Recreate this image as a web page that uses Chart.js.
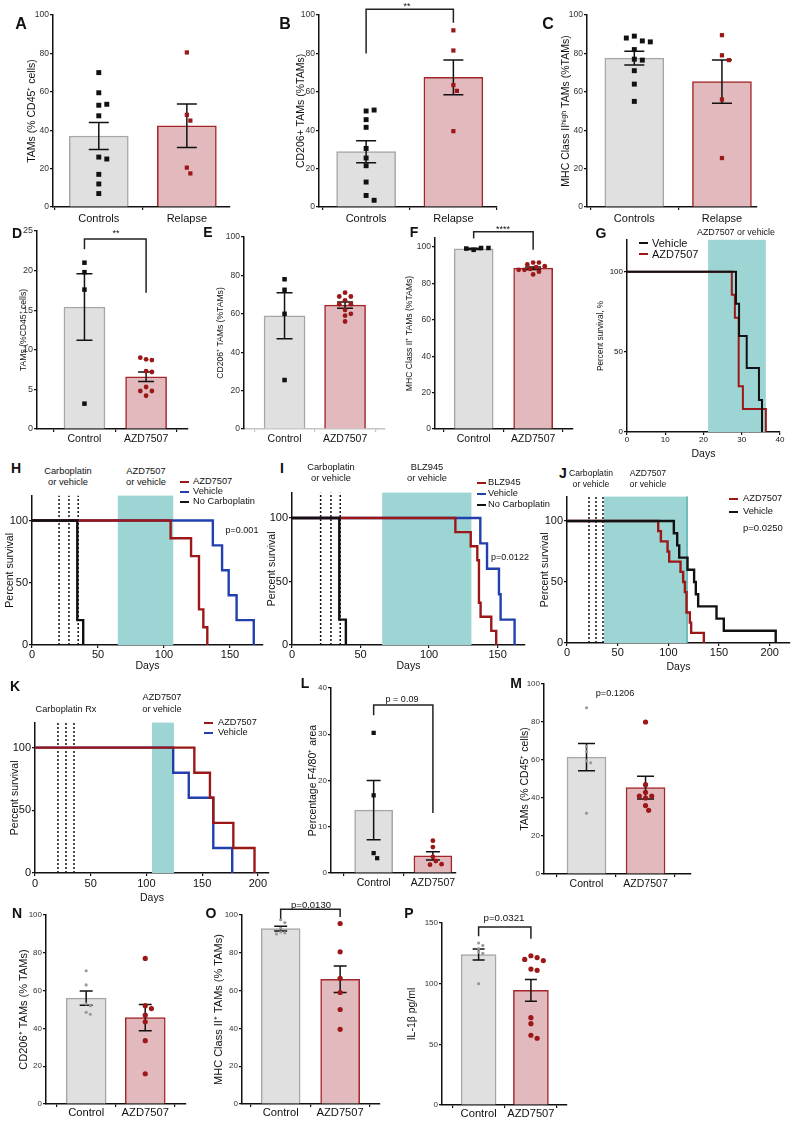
<!DOCTYPE html>
<html>
<head>
<meta charset="utf-8">
<title>TAM panels</title>
<script src="https://cdn.jsdelivr.net/npm/chart.js@4.4.1/dist/chart.umd.min.js"></script>
<style>
  html, body { margin: 0; padding: 0; background: #fff; }
  body { position: relative; width: 800px; height: 1125px; overflow: hidden; font-family: 'Liberation Sans', Arial, sans-serif; color: #111; }
  canvas { position: absolute; }
  .t { position: absolute; white-space: nowrap; line-height: 1; transform: translate(-50%, -50%); }
  .l { position: absolute; white-space: nowrap; line-height: 1; transform: translateY(-50%); }
  .sw { position: absolute; height: 2.5px; }
</style>
</head>
<body>
<script>
// ---------- categories and ticks ----------
const relapseCats = ['Controls', 'Relapse'];
const azdCats = ['Control', 'AZD7507'];
const pctTicks = [0, 20, 40, 60, 80, 100];
const dTicks = [0, 5, 10, 15, 20, 25];
const lTicks = [0, 10, 20, 30, 40];
const pTicks = [0, 50, 100, 150];
const survTicks = [0, 50, 100];
const gDayTicks = [0, 10, 20, 30, 40];
const hDayTicks = [0, 50, 100, 150];
const jDayTicks = [0, 50, 100, 150, 200];

// ---------- bar + dot panels ----------
const aCtrl = [70, 59.5, 53, 53.5, 47.5, 26, 25, 17, 12, 7];
const aRel = [80.5, 48, 45, 20.5, 17.5];
const aMean = [37, 42.3];
const aSem = [7, 11.3];

const bCtrl = [50, 50.5, 45.5, 41.5, 30.5, 25.5, 21.5, 13, 6, 3.5];
const bRel = [92, 81.5, 63.5, 60.5, 39.5];
const bMean = [28.8, 67.5];
const bSem = [5.7, 9];

const cCtrl = [89, 86.5, 88, 86, 82, 77, 76.5, 71, 64, 55];
const cRel = [89.5, 79, 76.5, 56, 25.5];
const cMean = [77.5, 65.3];
const cSem = [3.6, 11.3];

const dCtrl = [21, 19.8, 17.6, 3.2];
const dAzd = [8.8, 8.7, 9.0, 7.3, 7.2, 5.3, 4.8, 4.8, 4.2];
const dMean = [15.4, 6.6];
const dSem = [4.2, 0.6];

const eCtrl = [78, 72.5, 60, 25.5];
const eAzd = [71, 69, 69, 67, 65, 65, 62, 60, 59, 56];
const eMean = [59, 64.5];
const eSem = [12, 1.6];

const fCtrl = [98.5, 99.5, 99.2, 99.5];
const fAzd = [91.5, 91.5, 90.5, 89.5, 89, 88, 87.5, 87.5, 86.5, 85];
const fMean = [99, 88.4];
const fSem = [0.3, 0.7];

const lCtrl = [30.3, 16.8, 4.3, 3.2];
const lAzd = [7.0, 5.6, 3.5, 2.6, 1.8, 1.9];
const lMean = [13.6, 3.7];
const lSem = [6.4, 0.9];

const mCtrl = [87.5, 67, 64.5, 59.5, 58.5, 32];
const mAzd = [80, 47, 43, 41, 41, 40, 36, 33.5];
const mMean = [61.5, 45.5];
const mSem = [7.2, 6];

const nCtrl = [70.5, 63, 53, 52, 48.5, 47.5];
const nAzd = [77, 52, 50.5, 47, 43.5, 33.5, 16];
const nMean = [56, 45.7];
const nSem = [3.8, 7];

const oCtrl = [97.5, 96, 93, 91, 90.5, 90];
const oAzd = [95.5, 80.5, 66.5, 59, 50, 39.5];
const oMean = [92.8, 66];
const oSem = [1.3, 7];

const pCtrl = [133.5, 131.5, 129, 126, 125, 100];
const pAzd = [123, 121.5, 120, 119, 112, 111, 72, 67, 57.5, 55];
const pMean = [124, 94.5];
const pSem = [4.5, 9];

// significance brackets: [left end, right end, top, left leg bottom, right leg bottom]
const bBracket = [0, 1, 103, 80, 96];
const dBracket = [0, 1, 24, 22.7, 17.2];
const fBracket = [0, 1, 108.5, 104.7, 98.6];
const lBracket = [0, 1, 36.3, 34.1, 13];
const oBracket = [0, 1, 103, 98, 99];
const pBracket = [0, 1, 146.7, 139, 137];

// ---------- survival curves (event days / percent surviving) ----------
const gVehT = [0, 28.5, 29.3, 31.3, 34.5, 35.3];
const gVehS = [100, 80, 60, 40, 20, 0];
const gAzdT = [0, 27.4, 28.2, 29.2, 30.3, 36.3];
const gAzdS = [100, 85.7, 71.4, 28.6, 14.3, 0];
const gBand = [21.2, 36.3];

const hAzdT = [0, 105, 120.5, 126.5, 129.8, 132.8];
const hAzdS = [100, 85.7, 71.4, 28.6, 14.3, 0];
const hVehT = [0, 137, 144, 149, 155, 168];
const hVehS = [100, 80, 60, 40, 20, 0];
const hNoT = [0, 34.3, 38.8];
const hNoS = [100, 20, 0];
const hBand = [65, 107];
const hDoses = [20.5, 28, 35];

const iBlzT = [0, 119.2, 130.4, 135.2, 136.4, 137.6, 145.4, 149];
const iBlzS = [100, 88.9, 77.8, 66.7, 33.3, 22.2, 11.1, 0];
const iVehT = [0, 137.4, 142.3, 151, 152.2, 162.4];
const iVehS = [100, 80, 60, 40, 20, 0];
const iNoT = [0, 34.5, 39.3];
const iNoS = [100, 20, 0];
const iBand = [65.8, 130.9];
const iDoses = [20.9, 28.4, 35.2];

const jAzdT = [0, 90, 92.6, 99.2, 100.8, 112, 114.6, 116.3, 117.9, 121.2, 122.5, 135];
const jAzdS = [100, 91.7, 83.3, 75, 66.7, 58.3, 50, 41.7, 25, 16.7, 8.3, 0];
const jVehT = [0, 105.4, 108.7, 110.7, 118.9, 125.4, 127.1, 129.4, 147.5, 154.7, 205.9];
const jVehS = [100, 90, 80, 70, 60, 50, 40, 30, 20, 10, 0];
const jBand = [36.5, 118.5];
const jDoses = [21.7, 28.6, 35.5];

const kAzdT = [0, 143, 157, 160, 178, 197];
const kAzdS = [100, 80, 60, 40, 20, 0];
const kVehT = [0, 124, 138, 160, 177];
const kVehS = [100, 80, 60, 20, 0];
const kBand = [105, 124.7];
const kDoses = [20.6, 27.8, 35];

// ---------- styles ----------
const FONT = "'Liberation Sans', Arial, sans-serif";
const INK = '#111';
const GREY_FILL = '#e0e0e0', GREY_EDGE = '#a6a6a6';
const PINK_FILL = '#e2babd', RED_EDGE = '#a3252a';
const RED = '#9c1818', BLUE = '#2140ad', TEAL = '#9dd5d4';

Chart.defaults.font.family = FONT;
Chart.defaults.color = INK;

Chart.register({
    id: 'deco',
    beforeDatasetsDraw(chart, args, opts) {
        if (!opts.band) {
            return;
        }
        const { ctx, chartArea: a, scales: { x } } = chart;
        const x0 = x.getPixelForValue(opts.band[0]);
        const x1 = x.getPixelForValue(opts.band[1]);
        ctx.save();
        ctx.fillStyle = TEAL;
        ctx.fillRect(x0, a.top, x1 - x0, a.bottom - a.top);
        if (opts.bandEdge) {
            ctx.strokeStyle = '#3aa6a3';
            ctx.lineWidth = 1.2;
            ctx.beginPath();
            ctx.moveTo(x1, a.top);
            ctx.lineTo(x1, a.bottom);
            ctx.stroke();
        }
        ctx.restore();
    },
    afterDatasetDraw(chart, args, opts) {
        if (!opts.mean || args.index !== 0) {
            return;
        }
        const { ctx, scales: { x, y } } = chart;
        ctx.save();
        ctx.strokeStyle = INK;
        ctx.lineWidth = 1.5;
        opts.mean.forEach((m, i) => {
            const px = x.getPixelForValue(i);
            const lo = y.getPixelForValue(m - opts.sem[i]);
            const hi = y.getPixelForValue(m + opts.sem[i]);
            const w = opts.cap / 2;
            ctx.beginPath();
            ctx.moveTo(px, lo); ctx.lineTo(px, hi);
            ctx.moveTo(px - w, lo); ctx.lineTo(px + w, lo);
            ctx.moveTo(px - w, hi); ctx.lineTo(px + w, hi);
            ctx.stroke();
        });
        ctx.restore();
    },
    afterDatasetsDraw(chart, args, opts) {
        if (!opts.bracket) {
            return;
        }
        const { ctx, scales: { x, y } } = chart;
        const [i0, i1, top, l, r] = opts.bracket;
        ctx.save();
        ctx.strokeStyle = '#222';
        ctx.lineWidth = 1.5;
        ctx.beginPath();
        ctx.moveTo(x.getPixelForValue(i0), y.getPixelForValue(l));
        ctx.lineTo(x.getPixelForValue(i0), y.getPixelForValue(top));
        ctx.lineTo(x.getPixelForValue(i1), y.getPixelForValue(top));
        ctx.lineTo(x.getPixelForValue(i1), y.getPixelForValue(r));
        ctx.stroke();
        ctx.restore();
    },
});

function mkCanvas(g) {
    const lh = g.titleFs * 1.2;
    const left = Math.round(g.titleX - lh / 2);
    const top = Math.round(g.top - g.padTop);
    const cv = document.createElement('canvas');
    cv.width = Math.round(g.right + (g.padRight || 8) - left);
    cv.height = Math.round(g.bottom + g.xH - top);
    cv.style.left = left + 'px';
    cv.style.top = top + 'px';
    document.body.appendChild(cv);
    return { cv, yW: g.axisX - left, padTop: g.top - top, padRight: cv.width - (g.right - left), xH: cv.height - (g.bottom - top) };
}

// small beeswarm so overlapping dots sit side by side
function swarm(vals, center, g, dia) {
    const pxX = (g.right - g.axisX) / (g.xMax - g.xMin);
    const pxY = (g.bottom - g.top) / g.yMax;
    const placed = [];
    const near = dia * 0.85;
    return vals.map((v) => {
        const py = v * pxY;
        let off = 0;
        for (let k = 0; k < 30; k++) {
            const c = (k % 2 ? 1 : -1) * Math.ceil(k / 2) * dia * 0.5;
            if (placed.every((p) => Math.hypot(p[0] - c, p[1] - py) >= near)) {
                off = c;
                break;
            }
        }
        placed.push([off, py]);
        return { x: center + off / pxX, y: v };
    });
}

function axisCommon(color) {
    return {
        border: { color: color || INK, width: 1.5 },
        grid: { display: true, drawOnChartArea: false, drawTicks: true, tickLength: 3, color: color || INK, lineWidth: 1.2 },
    };
}

function barPanel(g, cats, ticks, ctrl, trt, mean, sem, bracket) {
    const c = mkCanvas(g);
    const st = g.marks;
    new Chart(c.cv, {
        type: 'scatter',
        data: {
            datasets: [
                {
                    type: 'bar',
                    data: mean.map((m, i) => ({ x: i, y: m })),
                    backgroundColor: [GREY_FILL, PINK_FILL],
                    borderColor: [GREY_EDGE, RED_EDGE],
                    borderWidth: 1.5,
                    barThickness: g.barW,
                    order: 3,
                },
                {
                    data: swarm(ctrl, 0, g, st.cr * 2 + 1),
                    pointStyle: st.cs,
                    pointRadius: st.cr,
                    pointBackgroundColor: st.cc,
                    pointBorderWidth: 0,
                    order: 2,
                },
                {
                    data: swarm(trt, 1, g, st.tr * 2 + 1),
                    pointStyle: st.ts,
                    pointRadius: st.tr,
                    pointBackgroundColor: RED,
                    pointBorderWidth: 0,
                    order: 1,
                },
            ],
        },
        options: {
            responsive: false,
            animation: false,
            events: [],
            layout: { padding: { top: c.padTop, right: c.padRight, left: 0, bottom: 0 } },
            plugins: {
                legend: { display: false },
                tooltip: { enabled: false },
                deco: { mean, sem, cap: g.cap, bracket },
            },
            scales: {
                x: {
                    type: 'linear',
                    min: g.xMin,
                    max: g.xMax,
                    offset: false,
                    afterBuildTicks: (s) => { s.ticks = [{ value: 0 }, { value: 1 }]; },
                    afterFit: (s) => { s.height = c.xH; },
                    ...axisCommon(g.xLine),
                    ticks: {
                        autoSkip: false,
                        maxRotation: 0,
                        padding: g.catPad,
                        color: INK,
                        font: { size: g.catFs },
                        callback: (v) => cats[v],
                    },
                },
                y: {
                    type: 'linear',
                    min: 0,
                    max: g.yMax,
                    afterBuildTicks: (s) => { s.ticks = ticks.map((v) => ({ value: v })); },
                    afterFit: (s) => { s.width = c.yW; },
                    ...axisCommon(),
                    ticks: { padding: 1, color: '#333', font: { size: g.tickFs } },
                    title: { display: true, text: g.title, padding: 0, color: INK, font: { size: g.titleFs } },
                },
            },
        },
    });
}

function survPanel(g, xTicks, curves, band, doses) {
    const c = mkCanvas(g);
    const datasets = [];
    (doses || []).forEach((t) => datasets.push({
        type: 'line',
        data: [{ x: t, y: 0 }, { x: t, y: g.yMax }],
        borderColor: INK,
        borderWidth: 1.5,
        borderDash: [2, 2],
        pointRadius: 0,
        order: 20,
    }));
    curves.forEach((s, i) => datasets.push({
        type: 'line',
        data: s.t.map((t, k) => ({ x: t, y: s.s[k] })),
        stepped: true,
        borderColor: s.color,
        borderWidth: g.lw,
        pointRadius: 0,
        clip: 4,
        order: 10 - i,
    }));
    new Chart(c.cv, {
        type: 'scatter',
        data: { datasets },
        options: {
            responsive: false,
            animation: false,
            events: [],
            layout: { padding: { top: c.padTop, right: c.padRight, left: 0, bottom: 0 } },
            plugins: {
                legend: { display: false },
                tooltip: { enabled: false },
                deco: { band, bandEdge: g.bandEdge },
            },
            scales: {
                x: {
                    type: 'linear',
                    min: 0,
                    max: g.xMax,
                    afterBuildTicks: (s) => { s.ticks = xTicks.map((v) => ({ value: v })); },
                    afterFit: (s) => { s.height = c.xH; },
                    ...axisCommon(),
                    ticks: { autoSkip: false, maxRotation: 0, padding: g.tickPad, color: INK, font: { size: g.tickFs } },
                    title: { display: true, text: 'Days', padding: 0, color: INK, font: { size: g.daysFs } },
                },
                y: {
                    type: 'linear',
                    min: 0,
                    max: g.yMax,
                    afterBuildTicks: (s) => { s.ticks = survTicks.map((v) => ({ value: v })); },
                    afterFit: (s) => { s.width = c.yW; },
                    ...axisCommon(),
                    ticks: { padding: 1, color: INK, font: { size: g.tickFs } },
                    title: { display: true, text: g.title, padding: 0, color: INK, font: { size: g.titleFs } },
                },
            },
        },
    });
}

// ---------- panel geometry ----------
const sqMarks = { cs: 'rect', cr: 3.5, cc: INK, ts: 'rect', tr: 3 };
const dotMarks = { cs: 'rect', cr: 3.2, cc: INK, ts: 'circle', tr: 2.4 };
const greyMarks = { cs: 'circle', cr: 1.6, cc: '#9a9a9a', ts: 'circle', tr: 2.6 };

const rowA = { top: 15, bottom: 207, yMax: 100, padTop: 14, xH: 24, tickFs: 8.5, catFs: 11, catPad: 2.4, titleFs: 10.5, barW: 59, cap: 20, marks: sqMarks };
const rowD = { bottom: 429, padTop: 12, xH: 20, tickFs: 8.5, catFs: 10.5, catPad: 0.7, titleFs: 8.6, barW: 41, cap: 16, marks: dotMarks };
const rowL = { bottom: 873, padTop: 14, xH: 20, tickFs: 8, catFs: 10.5, catPad: 0.7, titleFs: 10.5, barW: 38, cap: 14, marks: greyMarks };
const rowN = { bottom: 1104, padTop: 14, xH: 20, tickFs: 8, catFs: 11.2, catPad: -0.8, titleFs: 11, barW: 39, cap: 13, marks: greyMarks };

barPanel({ ...rowA, axisX: 53, right: 230, xMin: -0.52, xMax: 1.49, titleX: 32, title: 'TAMs (% CD45⁺ cells)' },
    relapseCats, pctTicks, aCtrl, aRel, aMean, aSem);
barPanel({ ...rowA, axisX: 319, right: 497, xMin: -0.54, xMax: 1.5, titleX: 301, title: 'CD206+ TAMs (%TAMs)' },
    relapseCats, pctTicks, bCtrl, bRel, bMean, bSem, bBracket);
barPanel({ ...rowA, axisX: 587, right: 757, xMin: -0.54, xMax: 1.4, titleX: 566, title: 'MHC Class IIʰⁱᵍʰ TAMs (%TAMs)' },
    relapseCats, pctTicks, cCtrl, cRel, cMean, cSem);

barPanel({ ...rowD, axisX: 37, top: 231, right: 188, yMax: 25, xMin: -0.77, xMax: 1.68, titleX: 23, title: 'TAMs (%CD45⁺ cells)', tickFs: 9 },
    azdCats, dTicks, dCtrl, dAzd, dMean, dSem, dBracket);
barPanel({ ...rowD, axisX: 244, top: 237, right: 385, yMax: 100, xMin: -0.67, xMax: 1.66, titleX: 220, title: 'CD206⁺ TAMs (%TAMs)', xLine: '#c4c4c4' },
    azdCats, pctTicks, eCtrl, eAzd, eMean, eSem);
barPanel({ ...rowD, axisX: 435, top: 238, right: 573, yMax: 105, xMin: -0.65, xMax: 1.67, titleX: 409, title: 'MHC Class II⁺ TAMs (%TAMs)', barW: 39 },
    azdCats, pctTicks, fCtrl, fAzd, fMean, fSem, fBracket);

barPanel({ ...rowL, axisX: 331, top: 688, right: 456, yMax: 40, xMin: -0.72, xMax: 1.39, titleX: 313, title: 'Percentage F4/80⁺ area', marks: { ...dotMarks, cr: 3 } },
    azdCats, lTicks, lCtrl, lAzd, lMean, lSem, lBracket);
barPanel({ ...rowL, axisX: 544, top: 684, bottom: 874, right: 691, yMax: 100, xMin: -0.72, xMax: 1.77, titleX: 525, title: 'TAMs (% CD45⁺ cells)', barW: 39, cap: 17 },
    azdCats, pctTicks, mCtrl, mAzd, mMean, mSem);

barPanel({ ...rowN, axisX: 46, top: 915, right: 186, yMax: 100, xMin: -0.68, xMax: 1.69, titleX: 24, title: 'CD206⁺ TAMs (% TAMs)', barW: 40 },
    azdCats, pctTicks, nCtrl, nAzd, nMean, nSem);
barPanel({ ...rowN, axisX: 242, top: 915, right: 380, yMax: 100, xMin: -0.65, xMax: 1.67, titleX: 219, title: 'MHC Class II⁺ TAMs (% TAMs)' },
    azdCats, pctTicks, oCtrl, oAzd, oMean, oSem, oBracket);
barPanel({ ...rowN, axisX: 442, top: 923, bottom: 1105, right: 567, yMax: 150, xMin: -0.7, xMax: 1.69, titleX: 412, title: 'IL-1β pg/ml', barW: 35, cap: 12, titleFs: 10.5 },
    azdCats, pTicks, pCtrl, pAzd, pMean, pSem, pBracket);

const survRow = { yMax: 120, padTop: 4, tickFs: 11, tickPad: 0.4, daysFs: 10.5, titleFs: 10.5, title: 'Percent survival', lw: 2.4 };

survPanel({ ...survRow, axisX: 627, top: 238, bottom: 432, right: 780, xMax: 40, titleX: 601, titleFs: 8.2, tickFs: 8, tickPad: 0, xH: 28, title: 'Percent survival, %', lw: 2 },
    gDayTicks, [
        { t: gAzdT, s: gAzdS, color: RED },
        { t: gVehT, s: gVehS, color: INK },
    ], gBand);
survPanel({ ...survRow, axisX: 32, top: 491.6, bottom: 645, right: 263, xMax: 175, titleX: 10, xH: 27 },
    hDayTicks, [
        { t: hVehT, s: hVehS, color: BLUE },
        { t: hAzdT, s: hAzdS, color: RED },
        { t: hNoT, s: hNoS, color: INK },
    ], hBand, hDoses);
survPanel({ ...survRow, axisX: 292, top: 489, bottom: 645, right: 525, xMax: 170, titleX: 272, xH: 27 },
    hDayTicks, [
        { t: iVehT, s: iVehS, color: BLUE },
        { t: iBlzT, s: iBlzS, color: RED },
        { t: iNoT, s: iNoS, color: INK },
    ], iBand, iDoses);
survPanel({ ...survRow, axisX: 567, top: 493, bottom: 643, right: 790, xMax: 220, titleX: 545, xH: 30, bandEdge: true },
    jDayTicks, [
        { t: jAzdT, s: jAzdS, color: RED },
        { t: jVehT, s: jVehS, color: INK },
    ], jBand, jDoses);
survPanel({ ...survRow, axisX: 35, top: 719, bottom: 873, right: 269, xMax: 210, titleX: 15, xH: 31, tickPad: 1.4 },
    jDayTicks, [
        { t: kVehT, s: kVehS, color: BLUE },
        { t: kAzdT, s: kAzdS, color: RED },
    ], kBand, kDoses);

// ---------- text overlays ----------
function text(x, y, s, size, opts = {}) {
    const el = document.createElement('div');
    el.className = opts.left ? 'l' : 't';
    el.style.left = x + 'px';
    el.style.top = y + 'px';
    el.style.fontSize = size + 'px';
    if (opts.bold) el.style.fontWeight = 'bold';
    el.textContent = s;
    document.body.appendChild(el);
}

function swatch(x0, x1, y, color) {
    const el = document.createElement('div');
    el.className = 'sw';
    el.style.left = x0 + 'px';
    el.style.top = (y - 1.25) + 'px';
    el.style.width = (x1 - x0) + 'px';
    el.style.background = color;
    document.body.appendChild(el);
}

[['A', 21, 24, 16], ['B', 285, 24, 16], ['C', 548, 24, 16],
 ['D', 17, 233, 14], ['E', 208, 232, 14], ['F', 414, 232, 14], ['G', 601, 233, 14],
 ['H', 16, 468, 14], ['I', 282, 468, 14], ['J', 563, 473, 14],
 ['K', 15, 686, 14], ['L', 305, 683, 14], ['M', 516, 683, 14],
 ['N', 17, 913, 14], ['O', 211, 913, 14], ['P', 409, 913, 14]].forEach(([s, x, y, f]) => text(x, y, s, f, { bold: true }));

text(407, 6, '**', 9);
text(116, 233, '**', 9);
text(503, 229, '****', 9);

text(736, 232, 'AZD7507 or vehicle', 8.9);
swatch(639, 648, 243, INK); text(652, 243, 'Vehicle', 11, { left: true });
swatch(639, 648, 254, RED); text(652, 254, 'AZD7507', 11, { left: true });

text(68, 472, 'Carboplatin', 9.3); text(68, 483, 'or vehicle', 9.3);
text(146, 472, 'AZD7507', 9.3); text(146, 483, 'or vehicle', 9.3);
swatch(180, 189, 482, RED); text(193, 482, 'AZD7507', 9.3, { left: true });
swatch(180, 189, 492, BLUE); text(193, 492, 'Vehicle', 9.3, { left: true });
swatch(180, 189, 502, INK); text(193, 502, 'No Carboplatin', 9.3, { left: true });
text(242, 530, 'p=0.001', 9);

text(331, 468, 'Carboplatin', 9.3); text(331, 479, 'or vehicle', 9.3);
text(427, 468, 'BLZ945', 9.3); text(427, 479, 'or vehicle', 9.3);
swatch(477, 486, 483, RED); text(488, 483, 'BLZ945', 9.3, { left: true });
swatch(477, 486, 494, BLUE); text(488, 494, 'Vehicle', 9.3, { left: true });
swatch(477, 486, 505, INK); text(488, 505, 'No Carboplatin', 9.3, { left: true });
text(510, 557, 'p=0.0122', 9);

text(591, 473, 'Carboplatin', 8.6); text(591, 484, 'or vehicle', 8.6);
text(648, 473, 'AZD7507', 8.6); text(648, 484, 'or vehicle', 8.6);
swatch(729, 738, 499, RED); text(743, 499, 'AZD7507', 9.3, { left: true });
swatch(729, 738, 512, INK); text(743, 512, 'Vehicle', 9.3, { left: true });
text(743, 528, 'p=0.0250', 9.5, { left: true });

text(66, 710, 'Carboplatin Rx', 9.2);
text(162, 698, 'AZD7507', 9.2); text(162, 710, 'or vehicle', 9.2);
swatch(204, 213, 723, RED); text(218, 723, 'AZD7507', 9.2, { left: true });
swatch(204, 213, 733, BLUE); text(218, 733, 'Vehicle', 9.2, { left: true });

text(402, 699, 'p = 0.09', 9);
text(615, 694, 'p=0.1206', 9.2);
text(311, 905, 'p=0.0130', 9.5);
text(504, 918, 'p=0.0321', 9.8);
</script>
</body>
</html>
